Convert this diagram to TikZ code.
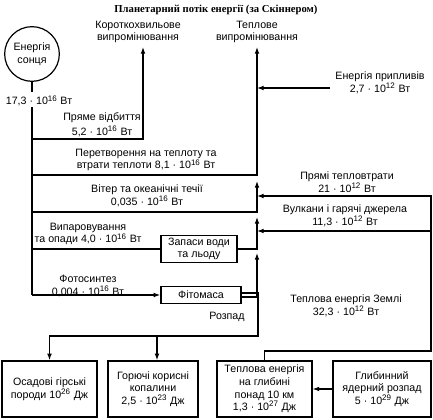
\documentclass[tikz,border=0pt]{standalone}
\usepackage{fontspec}
\setmainfont{Liberation Sans}
\newfontfamily\titlefont{Liberation Serif}
\usetikzlibrary{arrows.meta}
\newcommand{\ex}[1]{\textsuperscript{#1}}
\tikzset{every picture/.style={line width=0.9pt}}

\begin{document}
\begin{tikzpicture}[x=0.75pt,y=0.75pt,yscale=-1,xscale=1,
	lbl/.style={font=\fontsize{8}{9.4}\selectfont, align=center, inner sep=0pt},
	flowbox/.style={draw, lbl, line width=1.1pt},
	flow/.style={-{Latex[length=5pt,width=3.6pt]}}]
	\useasboundingbox (0,0) rectangle (433,420);

	% Text Node
	\node[font=\titlefont\bfseries\fontsize{8}{10}\selectfont, inner sep=0pt] (title) at (216,10) {Планетарний потік енергії (за Скіннером)};

	%Shape: Circle
	\node[draw, circle, lbl, minimum size=41pt] (sun) at (32,54) {Енергія\\сонця};
	%Shape: Rectangle
	\node[flowbox, minimum width=57pt, minimum height=20pt] (water) at (199,249) {Запаси води\\та льоду};
	\node[flowbox, minimum width=60pt, minimum height=12.75pt] (phyto) at (201,295) {Фітомаса};
	\node[flowbox, minimum width=71pt, minimum height=42pt] (rocks) at (49.5,389) {Осадові гірські\\породи 10\ex{26} Дж};
	\node[flowbox, minimum width=67.5pt, minimum height=42pt] (fuel) at (153,389) {Горючі корисні\\копалини\\2,5 · 10\ex{23} Дж};
	\node[flowbox, minimum width=71pt, minimum height=42pt] (deep) at (264.5,389) {Теплова енергія\\на глибині\\понад 10 км\\1,3 · 10\ex{27} Дж};
	\node[flowbox, minimum width=73.5pt, minimum height=42pt] (nuclear) at (382,389) {Глибинний\\ядерний розпад\\5 · 10\ex{29} Дж};

	% Coordinates
	\coordinate (s1) at (32,92);
	\coordinate (m0) at (32,107);
	\coordinate (m1) at (32,139);
	\coordinate (m2) at (32,175);
	\coordinate (m3) at (32,212);
	\coordinate (m5) at (32,295);
	\coordinate (sw) at (143,47);
	\coordinate (lw) at (257,47);
	\coordinate (j3) at (257,181);
	\coordinate (j4) at (257,217);
	\coordinate (j5) at (257,253);
	\coordinate (td) at (330,88);
	\coordinate (r1) at (257,196);
	\coordinate (r2) at (257,231);
	\coordinate (rt) at (431,196);
	\coordinate (rv) at (431,231);
	\coordinate (rb) at (431,351);
	\coordinate (d0) at (258,336);
	\coordinate (d2) at (157,336);

	%Straight Lines
	\draw (sun.south) -- (s1);
	\draw (m0) -- (m5);
	\draw[flow] (m1) -| (sw);
	\draw[flow] (m2) -| (lw);
	\draw[flow] (m3) -| (j3);
	\draw (water.west -| m0) -- (water.west);
	\draw[flow] (water.east) -| (j4);
	\draw[flow] (m5) -- (phyto.west);
	\draw[flow] ([yshift=1.5pt]phyto.east) -| (j5);
	\draw[flow] ([yshift=-1.5pt]phyto.east) -| (d0) -| (rocks.north);
	\draw[flow] (d2) -- (d2 |- fuel.north);
	\draw[flow] (td) -- (td -| lw);
	\draw[flow] (deep.north) |- (rb) -- (rt) -- (r1);
	\draw[flow] (rv) -- (r2);
	\draw[flow] (nuclear.west) -- (deep.east);

	% Text Node
	\node[lbl] (swlbl) at (138,32) {Короткохвильове\\випромінювання};
	\node[lbl] (lwlbl) at (257,32) {Теплове\\випромінювання};
	\node[lbl] (sunval) at (39,101) {17,3 · 10\ex{16} Вт};
	\node[lbl] (refl) at (102,125) {Пряме відбиття\\[1.5pt]5,2 · 10\ex{16} Вт};
	\node[lbl] (heat) at (146,160) {Перетворення на теплоту та\\втрати теплоти 8,1 · 10\ex{16} Вт};
	\node[lbl] (wind) at (147,196) {Вітер та океанічні течії\\0,035 · 10\ex{16} Вт};
	\node[lbl] (evap) at (88,234) {Випаровування\\та опади 4,0 · 10\ex{16} Вт};
	\node[lbl] (photo) at (88,286) {Фотосинтез\\0,004 · 10\ex{16} Вт};
	\node[lbl] (decay) at (227,317) {Розпад};
	\node[lbl] (tide) at (380,83) {Енергія припливів\\2,7 · 10\ex{12} Вт};
	\node[lbl] (loss) at (347,182) {Прямі тепловтрати\\21 · 10\ex{12} Вт};
	\node[lbl] (volc) at (345,216) {Вулкани і гарячі джерела\\11,3 · 10\ex{12} Вт};
	\node[lbl] (earth) at (346,306) {Теплова енергія Землі\\32,3 · 10\ex{12} Вт};

\end{tikzpicture}
\end{document}
